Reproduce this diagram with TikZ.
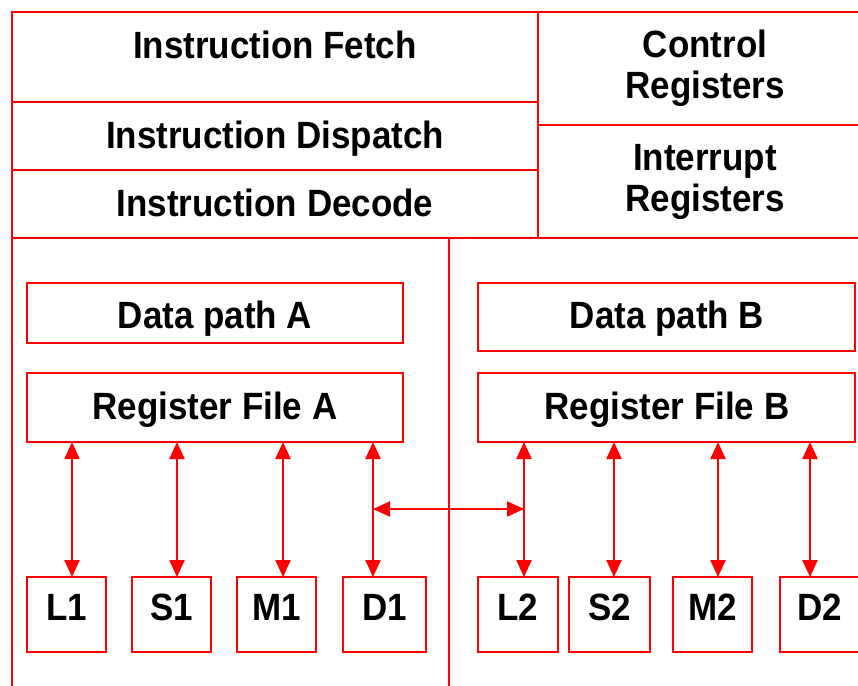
\documentclass[tikz,border=0pt]{standalone}
\usepackage{fontspec}
\setmainfont{Liberation Sans}[FakeStretch=0.92]
\usetikzlibrary{arrows.meta}
\begin{document}
\begin{tikzpicture}[x=1pt,y=-1pt,
  frame/.style={draw=red, line width=2.6pt},
  box/.style={draw=red, line width=2.3pt, inner sep=0pt, outer sep=0pt},
  lbl/.style={font=\bfseries\fontsize{38}{41}\selectfont, anchor=base, inner sep=0pt, align=center},
  link/.style={draw=red, line width=2.2pt,
    {Triangle[width=15pt,length=17pt]}-{Triangle[width=15pt,length=17pt]}}]
\useasboundingbox (0,0) rectangle (858,685);
\clip (0,0) rectangle (858,685);

% outer frame and partition lines
\draw[frame] (860,12) -- (12,12) -- (12,690);
\draw[frame] (12,102) -- (538,102);
\draw[frame] (12,170) -- (538,170);
\draw[frame] (12,238) -- (860,238);
\draw[frame] (538,12) -- (538,238);
\draw[frame] (538,125) -- (860,125);
\draw[frame] (449,238) -- (449,690);

% header labels (two-line labels are anchored at their last baseline)
\node[lbl] (fetch)    at (275,58.5)  {Instruction Fetch};
\node[lbl] (dispatch) at (275,148.5) {Instruction Dispatch};
\node[lbl] (decode)   at (275,216.5) {Instruction Decode};
\node[lbl] (ctrl)     at (705,98.5)  {Control\\Registers};
\node[lbl] (intr)     at (705,211.5) {Interrupt\\Registers};

% data paths and register files
\node[box, minimum width=376pt, minimum height=60pt] (dpA) at (215,313) {};
\node[box, minimum width=377pt, minimum height=68pt] (dpB) at (666.5,317) {};
\node[box, minimum width=376pt, minimum height=69pt] (rfA) at (215,407.5) {};
\node[box, minimum width=377pt, minimum height=69pt] (rfB) at (666.5,407.5) {};
\node[lbl] (tdpA) at (215,328.5) {Data path A};
\node[lbl] (tdpB) at (667,328.5) {Data path B};
\node[lbl] (trfA) at (215,419.5) {Register File A};
\node[lbl] (trfB) at (667,419.5) {Register File B};

% functional units
\foreach \n/\cx/\w in {L1/66.5/79, S1/171.5/79, M1/276.5/79, D1/384.5/83,
                       L2/518/80, S2/609.5/81, M2/712.5/79, D2/820/80}{
  \node[box, minimum width=\w pt, minimum height=75pt] (\n) at (\cx,614.5) {};
  \node[lbl] (t\n) at (\cx,620.5) {\n};
}

% register file <-> unit links
\foreach \n/\dx/\rf in {L1/5.5/rfA, S1/5.5/rfA, M1/6.5/rfA, D1/-11.5/rfA,
                        L2/6/rfB, S2/4.5/rfB, M2/5.5/rfB, D2/-10/rfB}{
  \coordinate (a\n) at ([xshift=\dx pt]\n.north);
  \draw[link] (a\n |- \rf.south) -- (a\n);
}

% cross path between the two sides
\coordinate (cross) at (0,509);
\draw[link] (aD1 |- cross) -- (aL2 |- cross);
\end{tikzpicture}
\end{document}
